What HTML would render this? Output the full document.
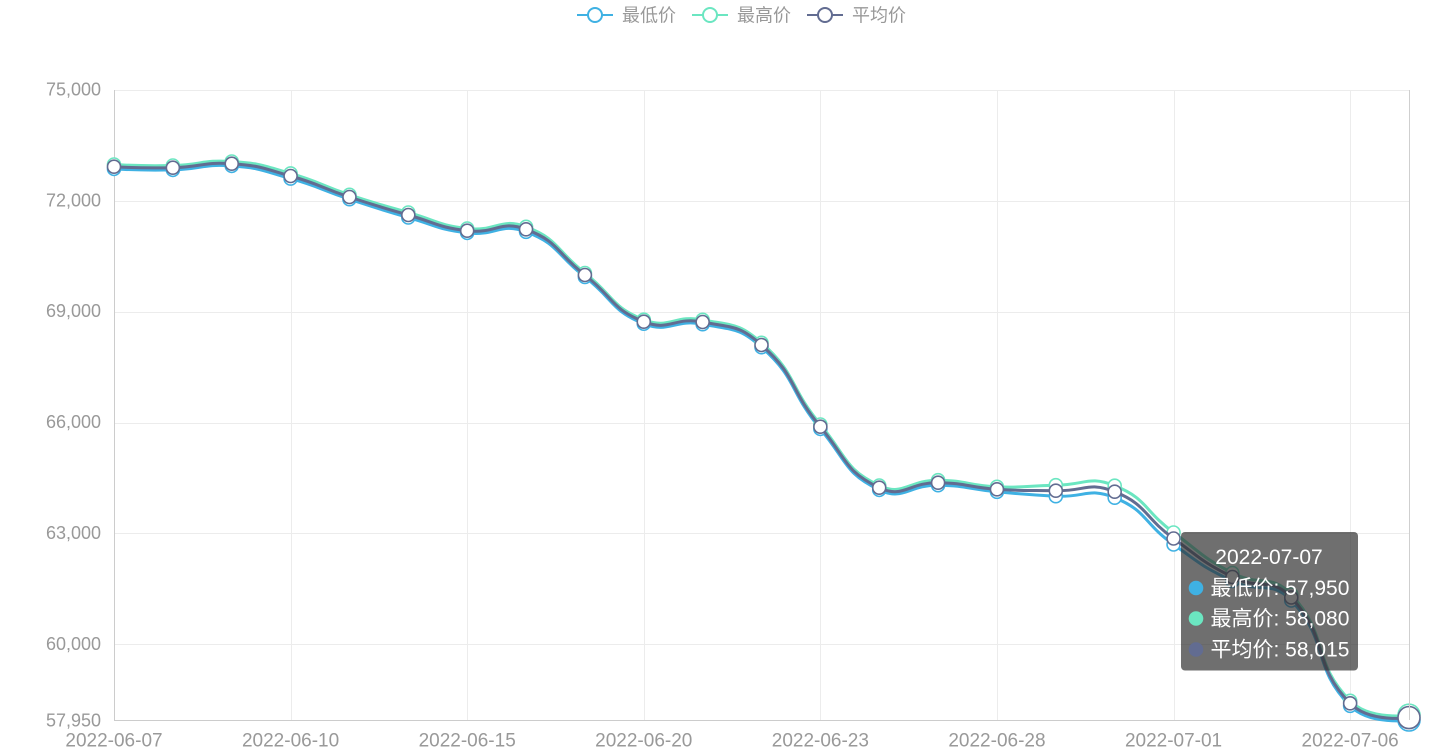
<!DOCTYPE html>
<html><head><meta charset="utf-8">
<style>
html,body{margin:0;padding:0;background:#fff;}
svg{display:block;font-family:"Liberation Sans","Noto Sans CJK SC",sans-serif;}
</style></head>
<body>
<svg id="c" width="1446" height="752" viewBox="0 0 1446 752" xmlns="http://www.w3.org/2000/svg">
  <!-- legend -->
  <g stroke-width="2" fill="#fff">
    <line x1="577" y1="15" x2="613" y2="15" stroke="#3fb1e3"/>
    <circle cx="595" cy="15" r="7" stroke="#3fb1e3"/>
    <line x1="692" y1="15" x2="728" y2="15" stroke="#6be6c1"/>
    <circle cx="710" cy="15" r="7" stroke="#6be6c1"/>
    <line x1="807" y1="15" x2="843" y2="15" stroke="#626c91"/>
    <circle cx="825" cy="15" r="7" stroke="#626c91"/>
  </g>
  <g font-size="18" fill="#999">
    <text x="622" y="21.5">最低价</text>
    <text x="737" y="21.5">最高价</text>
    <text x="852" y="21.5">平均价</text>
  </g>
  <!-- grid -->
  <g id="grid" stroke="#ececec" stroke-width="1"></g>
  <g id="axes"></g>
  <g id="series"></g>
  <line x1="1409.5" y1="90" x2="1409.5" y2="720" stroke="#cfcfcf" stroke-width="1"/>
  <!-- tooltip -->
  <rect x="1181" y="532" width="177" height="138.5" rx="4" ry="4" fill="rgba(50,50,50,0.7)"/>
  <g fill="#fff" font-size="21">
    <text x="1269" y="564" text-anchor="middle">2022-07-07</text>
    <circle cx="1196" cy="588" r="7.3" fill="#3fb1e3"/>
    <text x="1210.5" y="595">最低价: 57,950</text>
    <circle cx="1196" cy="618.5" r="7.3" fill="#6be6c1"/>
    <text x="1210.5" y="625.5">最高价: 58,080</text>
    <circle cx="1196" cy="649.5" r="7.3" fill="#626c91"/>
    <text x="1210.5" y="656.5">平均价: 58,015</text>
  </g>
</svg>
<script>
(function(){
  var NS="http://www.w3.org/2000/svg";
  function el(tag,attrs,parent,text){
    var e=document.createElementNS(NS,tag);
    for(var k in attrs)e.setAttribute(k,attrs[k]);
    if(text!==undefined)e.textContent=text;
    parent.appendChild(e);return e;
  }
  var X0=114,X1=1409,N=23,step=(X1-X0)/(N-1);
  function xAt(i){return X0+i*step;}
  function yv(v){return 720-(v-57950)*630/17050;}
  var grid=document.getElementById('grid');
  var axes=document.getElementById('axes');
  var ticks=[75000,72000,69000,66000,63000,60000];
  ticks.forEach(function(v){
    var y=Math.round(yv(v))+0.5;
    el('line',{x1:X0,y1:y,x2:X1,y2:y},grid);
  });
  var labIdx=[0,3,6,9,12,15,18,21];
  var labs=['2022-06-07','2022-06-10','2022-06-15','2022-06-20','2022-06-23','2022-06-28','2022-07-01','2022-07-06'];
  labIdx.forEach(function(i){
    if(i===0)return;
    var x=Math.round(xAt(i))+0.5;
    el('line',{x1:x,y1:90,x2:x,y2:720},grid);
  });
  el('line',{x1:114.5,y1:90,x2:114.5,y2:720.5,stroke:'#cccccc','stroke-width':1},axes);
  el('line',{x1:114,y1:720.5,x2:1409,y2:720.5,stroke:'#cccccc','stroke-width':1},axes);
  var tg=el('g',{'font-size':18,fill:'#999','text-anchor':'end'},axes);
  ticks.forEach(function(v){
    el('text',{x:101,y:yv(v)+5.5},tg,v.toLocaleString('en-US'));
  });
  el('text',{x:101,y:726.5},tg,'57,950');
  var xg=el('g',{'font-size':19,fill:'#999','text-anchor':'middle'},axes);
  labIdx.forEach(function(i,k){
    el('text',{x:xAt(i),y:746.5},xg,labs[k]);
  });

  var A=[166.7,167.7,163.7,176,197,215,230.7,229.3,275,321.7,322,345,426.7,487.7,482.7,489.3,490.7,491.7,538.5,577,597.5,703.3,717.6];
  var D=[2.2,2.2,2.2,2.6,2.2,2.5,2.2,2.5,2,2,2.2,2.2,2.2,2.2,2.5,2.5,5.5,6,6,4,3,2.5,2.4];
  function pts(sign){
    return A.map(function(y,i){return [xAt(i),y+sign*D[i]];});
  }
  function smoothPath(p,s){
    var n=p.length,cps=[];
    for(var i=0;i<n;i++){
      if(i===0||i===n-1){cps.push([p[i][0],p[i][1]]);continue;}
      var pr=p[i-1],nx=p[i+1],c=p[i];
      var vx=(nx[0]-pr[0])*s,vy=(nx[1]-pr[1])*s;
      var d0=Math.hypot(c[0]-pr[0],c[1]-pr[1]),d1=Math.hypot(c[0]-nx[0],c[1]-nx[1]);
      var sum=d0+d1; if(sum){d0/=sum;d1/=sum;}
      cps.push([c[0]-vx*d0,c[1]-vy*d0]);
      cps.push([c[0]+vx*d1,c[1]+vy*d1]);
    }
    var d='M'+p[0][0].toFixed(2)+','+p[0][1].toFixed(2);
    for(var j=0;j<n-1;j++){
      var a=cps[2*j],b=cps[2*j+1],q=p[j+1];
      d+=' C'+a[0].toFixed(2)+','+a[1].toFixed(2)+' '+b[0].toFixed(2)+','+b[1].toFixed(2)+' '+q[0].toFixed(2)+','+q[1].toFixed(2);
    }
    return d;
  }
  var S=document.getElementById('series');
  var series=[[1,'#3fb1e3'],[-1,'#6be6c1'],[0,'#626c91']];
  series.forEach(function(sr){
    var p=pts(sr[0]);
    var g=el('g',{},S);
    el('path',{d:smoothPath(p,0.5),fill:'none',stroke:sr[1],'stroke-width':3,'stroke-linejoin':'round','stroke-linecap':'round'},g);
    p.forEach(function(q,i){
      var r=(i===N-1)?11:6.5;
      el('circle',{cx:q[0],cy:q[1],r:r,fill:'#fff',stroke:sr[1],'stroke-width':1.6},g);
    });
  });
})();
</script>
</body></html>
